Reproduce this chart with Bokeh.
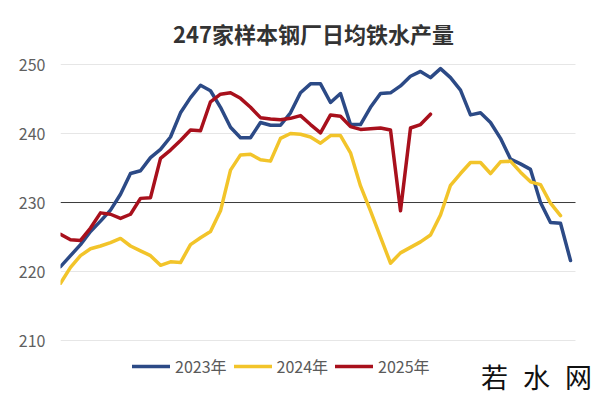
from bokeh.plotting import figure
from bokeh.models import Range1d, FixedTicker, Legend, LegendItem, Label
from bokeh.embed import file_html
from bokeh.resources import INLINE

title_text = "247家样本钢厂日均铁水产量"
series_names = ["2023年", "2024年", "2025年"]
y_ticks = [210, 220, 230, 240, 250]
ref_level = 230

v2023 = [220.7, 222.3, 223.9, 225.8, 227.3, 228.9, 231.2, 234.2, 234.6, 236.5,
         237.7, 239.5, 243.0, 245.2, 247.0, 246.2, 243.8, 240.9, 239.4, 239.4,
         241.6, 241.2, 241.2, 243.0, 245.9, 247.2, 247.2, 244.5, 245.8, 241.3,
         241.3, 243.8, 245.8, 245.9, 246.9, 248.3, 249.0, 248.1, 249.4, 248.1,
         246.3, 242.7, 243.0, 241.6, 239.3, 236.3, 235.6, 234.8, 230.0, 227.1,
         227.0, 221.6]
v2024 = [218.3, 220.6, 222.3, 223.3, 223.7, 224.2, 224.8, 223.7, 223.0, 222.3,
         220.9, 221.4, 221.3, 223.9, 224.9, 225.8, 228.8, 234.7, 236.9, 237.0,
         236.2, 236.0, 239.3, 240.0, 239.9, 239.5, 238.6, 239.7, 239.7, 237.2,
         232.4, 228.8, 225.0, 221.2, 222.7, 223.5, 224.3, 225.3, 228.2, 232.5,
         234.2, 235.8, 235.8, 234.2, 235.9, 236.0, 234.4, 233.0, 232.6, 229.9,
         228.1]
v2025 = [225.4, 224.6, 224.5, 226.3, 228.5, 228.3, 227.7, 228.3, 230.6, 230.7,
         236.4, 237.6, 239.0, 240.5, 240.4, 244.6, 245.7, 245.9, 245.1, 243.8,
         242.3, 242.1, 242.0, 242.2, 242.6, 241.3, 240.1, 242.7, 242.5, 241.0,
         240.6, 240.7, 240.8, 240.5, 228.8, 240.8, 241.3, 242.8]
weeks = list(range(1, 53))

colors = ["#2C4A86", "#F2C42A", "#A8101C"]

p = figure(width=600, height=399, output_backend="svg", toolbar_location=None,
           x_range=Range1d(1, 55), y_range=Range1d(201.45, 259.28),
           x_axis_location=None, min_border_left=60, min_border_right=0,
           min_border_top=0, min_border_bottom=0)
p.outline_line_color = None
p.grid.visible = False
p.background_fill_color = "white"
p.border_fill_color = "white"

ax = p.yaxis[0]
ax.ticker = FixedTicker(ticks=y_ticks)
ax.axis_line_color = None
ax.major_tick_line_color = None
ax.minor_tick_line_color = None
ax.major_tick_out = 0
ax.major_tick_in = 0
ax.major_label_standoff = 15
ax.major_label_text_font = "Noto Sans CJK SC"
ax.major_label_text_font_size = "16px"
ax.major_label_text_color = "#5F5F5F"

# grid lines (stopping short of the right edge like the reference)
x_end = 52.5
grid_vals = [t for t in y_ticks if t != ref_level]
p.segment(x0=[1] * len(grid_vals), x1=[x_end] * len(grid_vals), y0=grid_vals, y1=grid_vals,
          line_color="#E6E6E6", line_width=1)
p.segment(x0=[1], x1=[x_end], y0=[ref_level], y1=[ref_level], line_color="#3A3A3A", line_width=1)

renderers = []
for vals, c in zip([v2023, v2024, v2025], colors):
    r = p.line(weeks[:len(vals)], vals, line_color=c, line_width=3.5, line_join="round", line_cap="round")
    renderers.append(r)

legend = Legend(items=[LegendItem(label=n, renderers=[r]) for n, r in zip(series_names, renderers)],
                orientation="horizontal", location=(72, 21), glyph_width=38, glyph_height=20,
                label_standoff=5, spacing=7, padding=0, margin=0,
                border_line_color=None, background_fill_alpha=0,
                label_text_font="Noto Sans CJK SC", label_text_font_size="16px",
                label_text_color="#5A5A5A")
p.add_layout(legend)

p.add_layout(Label(x=26.3, y=254.64, text=title_text, text_align="center", text_baseline="middle",
                   text_font="Noto Sans CJK SC", text_font_size="22px", text_font_style="bold",
                   text_color="#333333"))

for i, ch in enumerate(["若", "水", "网"]):
    p.add_layout(Label(x=44.4 + 4.2 * i, y=204.8, text=ch, text_align="center", text_baseline="middle",
                       text_font="Noto Sans CJK SC", text_font_size="27px",
                       text_color="#111111"))

open("out.html", "w").write(file_html(p, INLINE))
